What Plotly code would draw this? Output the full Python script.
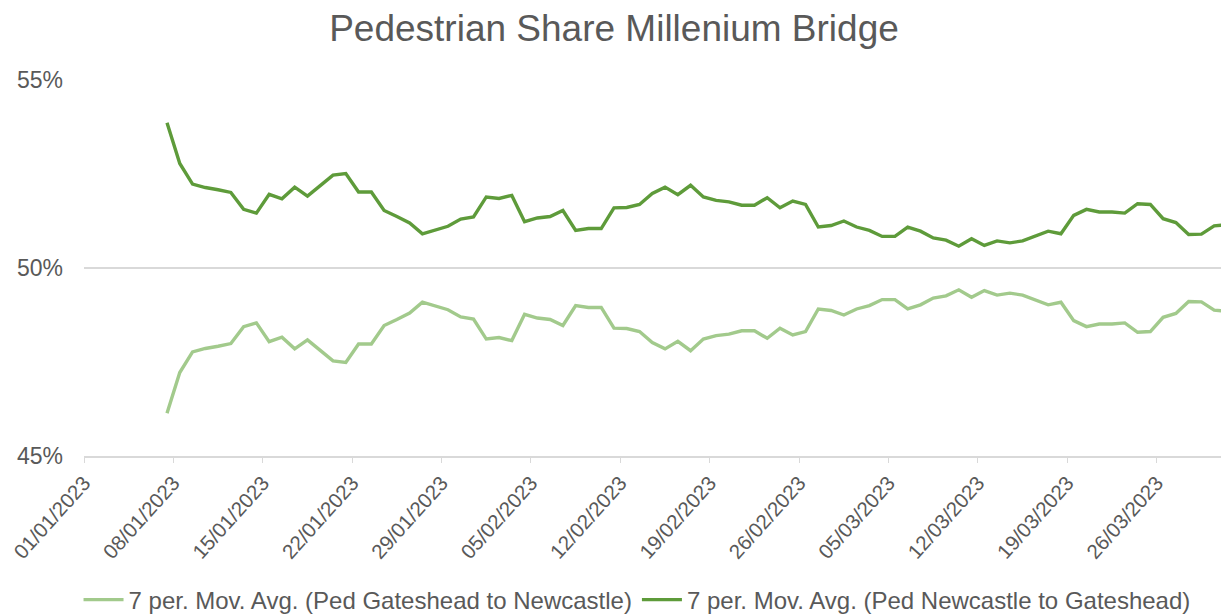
import pandas as pd
import plotly.graph_objects as go

# Daily 7-day moving averages, 07/01/2023 .. 31/03/2023
start_date = "2023-01-07"
end_date = "2023-03-31"

ped_newcastle_to_gateshead = [
    53.86, 52.78, 52.23, 52.14, 52.08, 52.01, 51.56, 51.46, 51.96, 51.84, 52.15, 51.91, 52.19, 52.47,
    52.51, 52.02, 52.02, 51.53, 51.37, 51.20, 50.91, 51.00, 51.11, 51.30, 51.36, 51.89, 51.85, 51.93,
    51.23, 51.33, 51.37, 51.53, 51.00, 51.05, 51.05, 51.60, 51.61, 51.69, 51.98, 52.15, 51.95, 52.20,
    51.89, 51.80, 51.76, 51.67, 51.67, 51.87, 51.60, 51.78, 51.69, 51.09, 51.13, 51.25, 51.09, 51.00,
    50.84, 50.84, 51.09, 50.98, 50.80, 50.74, 50.58, 50.78, 50.60, 50.72, 50.67, 50.72, 50.84, 50.98,
    50.91, 51.40, 51.56, 51.49, 51.49, 51.46, 51.71, 51.69, 51.31, 51.21, 50.89, 50.90, 51.12, 51.15,
]

ped_gateshead_to_newcastle = [
    46.14, 47.22, 47.77, 47.86, 47.92, 47.99, 48.44, 48.54, 48.04, 48.16, 47.85, 48.09, 47.81, 47.53,
    47.49, 47.98, 47.98, 48.47, 48.63, 48.80, 49.09, 49.00, 48.89, 48.70, 48.64, 48.11, 48.15, 48.07,
    48.77, 48.67, 48.63, 48.47, 49.00, 48.95, 48.95, 48.40, 48.39, 48.31, 48.02, 47.85, 48.05, 47.80,
    48.11, 48.20, 48.24, 48.33, 48.33, 48.13, 48.40, 48.22, 48.31, 48.91, 48.87, 48.75, 48.91, 49.00,
    49.16, 49.16, 48.91, 49.02, 49.20, 49.26, 49.42, 49.22, 49.40, 49.28, 49.33, 49.28, 49.16, 49.02,
    49.09, 48.60, 48.44, 48.51, 48.51, 48.54, 48.29, 48.31, 48.69, 48.79, 49.11, 49.10, 48.88, 48.85,
]

series_names = [
    "7 per. Mov. Avg. (Ped Gateshead to Newcastle)",
    "7 per. Mov. Avg. (Ped Newcastle to Gateshead)",
]
title_text = "Pedestrian Share Millenium Bridge"

dates = pd.date_range(start_date, end_date, freq="D")
# Excel date axis draws each day's point in the middle of its day slot
x_vals = dates + pd.Timedelta(hours=12)

TEXT = "#595959"
FONT = "Liberation Sans, Arial, sans-serif"

# page body has an 8px margin, so the figure is laid out 8px smaller
W, H = 1221, 606

fig = go.Figure()
fig.add_trace(go.Scatter(
    x=x_vals, y=ped_gateshead_to_newcastle, mode="lines", name=series_names[0],
    line=dict(color="#A2CA8C", width=3.4),
))
fig.add_trace(go.Scatter(
    x=x_vals, y=ped_newcastle_to_gateshead, mode="lines", name=series_names[1],
    line=dict(color="#5E9B3A", width=3.4),
))

fig.update_layout(
    width=W, height=H,
    paper_bgcolor="white", plot_bgcolor="white",
    font=dict(family=FONT, color=TEXT, size=24),
    margin=dict(l=76, r=0, t=72, b=158, autoexpand=False),
    title=dict(text=title_text, x=(614 - 8) / W, xref="container", xanchor="center",
               y=1 - 20 / H, yref="container", yanchor="middle",
               font=dict(size=37, color=TEXT, family=FONT)),
    showlegend=True,
    legend=dict(orientation="h", x=0.483, xanchor="center", y=-0.383, yanchor="middle",
                font=dict(size=24, color=TEXT), itemwidth=40, tracegroupgap=0),
    xaxis=dict(
        type="date", automargin=False, ticklabeloverflow="allow",
        range=["2023-01-01", "2023-03-31 15:50"],
        tick0="2023-01-01", dtick=7 * 86400000,
        tickformat="%d/%m/%Y", tickangle=-48,
        ticks="outside", ticklen=5, tickcolor="#D9D9D9", tickwidth=1.3,
        showgrid=False, showline=True, linecolor="#D9D9D9", linewidth=1.5,
        tickfont=dict(size=20.5, color=TEXT), zeroline=False,
    ),
    yaxis=dict(
        automargin=False,
        range=[45, 55], tick0=45, dtick=5, ticksuffix="%",
        showgrid=True, gridcolor="#D9D9D9", gridwidth=1.5,
        showline=False, zeroline=False, ticks="",
        tickfont=dict(size=23, color=TEXT), ticklabelstandoff=20,
    ),
)

fig.write_html("out.html")
